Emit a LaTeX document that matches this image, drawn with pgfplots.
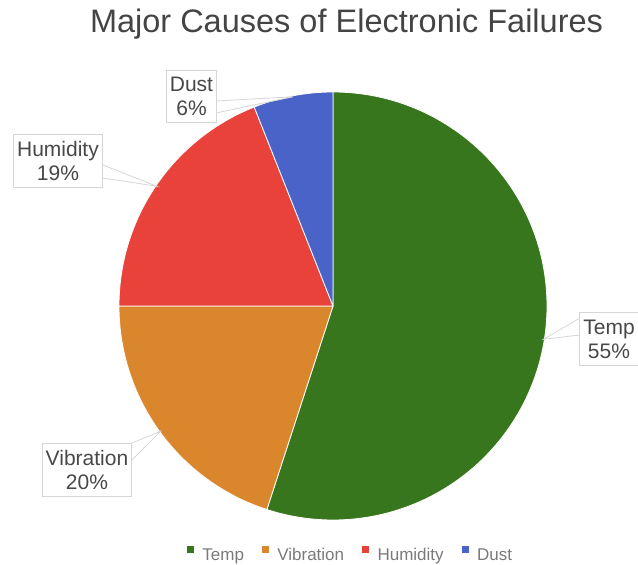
\documentclass[border=0pt]{standalone}
\usepackage{fontspec}
\setmainfont{Liberation Sans}
\usepackage{pgfplots}
\usepackage{pgfplotstable}
\pgfplotsset{compat=1.18}

\definecolor{slice0}{HTML}{38761D}
\definecolor{slice1}{HTML}{DA862C}
\definecolor{slice2}{HTML}{E8423A}
\definecolor{slice3}{HTML}{4A63C8}
\definecolor{titlegray}{HTML}{444444}
\definecolor{labelgray}{HTML}{484848}
\definecolor{legendgray}{HTML}{7A7A7A}
\definecolor{boxgray}{HTML}{D6D6D6}

% share of each cause, label box centre and the two box points of its callout
\pgfplotstableread{
name      pct lx    ly    ax  ay  bx  by
Temp      55  609   226   580 247 580 230
Vibration 20  87    95    132 122 132 105
Humidity  19  58    404   103 400 103 387
Dust      6   191.5 468.5 216 464 216 452
}\piedata

\newcommand\getcell[3]{\pgfplotstablegetelem{#1}{#2}\of\piedata\let#3\pgfplotsretval}
\newcommand\labelfont{\fontsize{21}{24}\selectfont}
\newcommand\pieR{214}

\begin{document}
\begin{tikzpicture}
\path[use as bounding box] (0,0) rectangle (638pt,565pt);
\begin{axis}[
  at={(0pt,0pt)}, anchor=origin,
  x=1pt, y=1pt, xmin=0, xmax=638, ymin=0, ymax=565,
  hide axis, clip=false,
  legend columns=4,
  legend cell align=left,
  legend style={draw=none, fill=none, at={(0.5478,0.0195)}, anchor=center,
    font=\fontsize{17}{20}\selectfont, text=legendgray,
    nodes={inner sep=0pt},
    /tikz/every odd column/.append style={column sep=9pt},
    /tikz/every even column/.append style={column sep=18pt}},
]
\node[font=\fontsize{32.5}{39}\selectfont, text=titlegray, anchor=base]
  at (axis cs:346.5,532) {Major Causes of Electronic Failures};

% slices, clockwise from twelve o'clock
\xdef\astart{90}
\pgfplotsinvokeforeach{0,...,3}{
  \getcell{#1}{pct}\pct
  \pgfmathsetmacro\aend{\astart-3.6*\pct}
  \edef\cmd{\noexpand\fill[slice#1, draw=white, line width=0.8pt, line join=round]
    (axis cs:333,259) -- ++(\astart:\pieR pt)
    arc[start angle=\astart, end angle=\aend, radius=\pieR pt] -- cycle;}
  \cmd
  \xdef\astart{\aend}
}

% callouts and label boxes
\xdef\astart{90}
\pgfplotsinvokeforeach{0,...,3}{
  \getcell{#1}{pct}\pct
  \getcell{#1}{name}\nm
  \getcell{#1}{lx}\Lx \getcell{#1}{ly}\Ly
  \getcell{#1}{ax}\Ax \getcell{#1}{ay}\Ay
  \getcell{#1}{bx}\Bx \getcell{#1}{by}\By
  \pgfmathsetmacro\amid{\astart-1.8*\pct}
  \pgfmathsetmacro\Px{333+(\pieR-1)*cos(\amid)}
  \pgfmathsetmacro\Py{259+(\pieR-1)*sin(\amid)}
  \edef\cmd{\noexpand\filldraw[draw=boxgray, fill=white, line width=0.8pt]
      (axis cs:\Ax,\Ay) -- (axis cs:\Px,\Py) -- (axis cs:\Bx,\By);
    \noexpand\node[draw=boxgray, fill=white, line width=0.8pt, align=center,
      inner xsep=3.5pt, inner ysep=7pt, text=labelgray, font=\noexpand\labelfont]
      at (axis cs:\Lx,\Ly) {\nm\noexpand\\\pct\noexpand\%};}
  \cmd
  \pgfmathsetmacro\aend{\astart-3.6*\pct}
  \xdef\astart{\aend}
}

\addlegendimage{legend image code/.code={\fill[slice0] (0pt,2.6pt) rectangle (6pt,8.6pt);}}
\addlegendentry{Temp}
\addlegendimage{legend image code/.code={\fill[slice1] (0pt,2.6pt) rectangle (6pt,8.6pt);}}
\addlegendentry{Vibration}
\addlegendimage{legend image code/.code={\fill[slice2] (0pt,2.6pt) rectangle (6pt,8.6pt);}}
\addlegendentry{Humidity}
\addlegendimage{legend image code/.code={\fill[slice3] (0pt,2.6pt) rectangle (6pt,8.6pt);}}
\addlegendentry{Dust}
\end{axis}
\end{tikzpicture}
\end{document}
